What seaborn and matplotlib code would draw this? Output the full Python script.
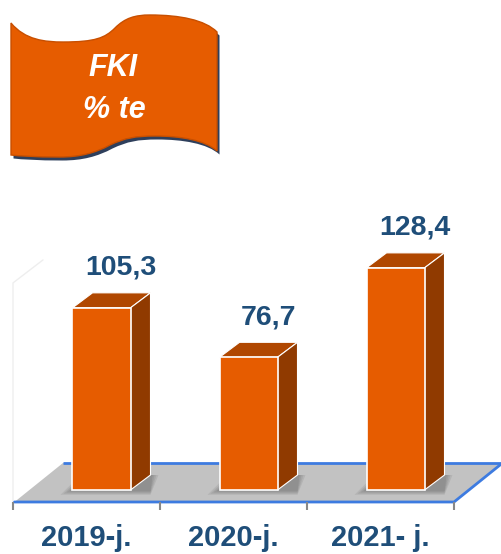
import numpy as np
import pandas as pd
import matplotlib
matplotlib.use("Agg")
import matplotlib.pyplot as plt
from matplotlib.path import Path
from matplotlib.patches import PathPatch, Polygon
import seaborn as sns

years = ["2019-j.", "2020-j.", "2021- j."]
values = [105.3, 76.7, 128.4]
value_labels = ["105,3", "76,7", "128,4"]
title_lines = ["FKI", "% te"]

orange = "#E65C00"
top_col = "#B04700"
side_col = "#903A00"
navy = "#1F4E79"
blue = "#3D7BE0"
floor_col = "#C2C2C2"

sns.set_theme(style="white")
plt.rcParams["font.family"] = ["Liberation Sans", "DejaVu Sans"]

W, H = 501, 554
fig = plt.figure(figsize=(W / 100, H / 100), dpi=100)
fig.patch.set_facecolor("white")

# pixel scale of the bar axes
kx = 147.0          # px per category
ky = 1.73           # px per value unit
base_px = 490       # y=0 (from top)
ylo, yhi = -18.5, 170
bottom_px = base_px - ylo * ky
top_px = base_px - yhi * ky
ax = fig.add_axes([0, (H - bottom_px) / H, 1, (bottom_px - top_px) / H])
ax.set_zorder(2)
ax.patch.set_alpha(0)

df = pd.DataFrame({"year": years, "value": values})
sns.barplot(data=df, x="year", y="value", color=orange, saturation=1,
            width=58 / kx, edgecolor="white", linewidth=1.2, ax=ax)
ax.set_xlim(-0.5 - 13 / kx, -0.5 + (W - 13) / kx)
ax.set_ylim(ylo, yhi)

dx = 20 / kx
dy = 15 / ky
shift = 15 / kx

# floor
fdx = 0.33
fy0 = -12 / ky
fy1 = 27 / ky
ax.add_patch(Polygon([(-0.49, fy0), (2.5, fy0), (2.5 + fdx, fy1), (-0.49 + fdx, fy1)],
                     closed=True, facecolor=floor_col, edgecolor="none", zorder=0.5))
ax.plot([-0.49 + fdx, 2.5 + fdx], [fy1, fy1], color=blue, lw=2, zorder=0.6, solid_capstyle="butt")
ax.plot([-0.49, 2.5, 2.5 + fdx], [fy0, fy0, fy1], color=blue, lw=2, zorder=0.6)
ax.vlines([-0.5, 0.5, 1.5, 2.5], fy0 - 8 / ky, fy0, color="#888888", lw=1.5, zorder=0.6, clip_on=False)
# faint back wall edge
ax.plot([-0.5, -0.5, -0.5 + 30 / kx], [fy0, 119.7, 119.7 + 23 / ky], color="#eeeeee", lw=1, zorder=0.4)

for i, p in enumerate(ax.patches):
    if i >= len(values):
        break
    p.set_x(p.get_x() + shift)
    p.set_zorder(3)
    x0, w, h = p.get_x(), p.get_width(), p.get_height()
    # soft shadow
    for j in range(1, 5):
        ax.add_patch(Polygon([(x0 - j * 3 / kx, -j * 1.2 / ky), (x0 + w + dx, -j * 1.2 / ky),
                              (x0 + w + dx + j * 2 / kx, dy), (x0 - j * 3 / kx + dx, dy)],
                             closed=True, facecolor="black", alpha=0.07, edgecolor="none", zorder=1))
    ax.add_patch(Polygon([(x0, h), (x0 + w, h), (x0 + w + dx, h + dy), (x0 + dx, h + dy)],
                         closed=True, facecolor=top_col, edgecolor="white", lw=0.8, zorder=2.5))
    ax.add_patch(Polygon([(x0 + w, 0), (x0 + w + dx, dy), (x0 + w + dx, h + dy), (x0 + w, h)],
                         closed=True, facecolor=side_col, edgecolor="white", lw=0.8, zorder=2.5))
    ax.text(x0 + w / 2 + 19.5 / kx, h + 19, value_labels[i], ha="center", va="baseline",
            fontsize=20.5, fontweight="bold", color=navy, zorder=4)

ax.set_xlabel("")
ax.set_ylabel("")
ax.set_yticks([])
ax.set_xticks(range(len(years)))
ax.set_xticklabels(years, fontsize=21, fontweight="bold", color=navy)
ax.tick_params(axis="x", length=0, pad=1.5)
for s in ax.spines.values():
    s.set_visible(False)

# decoration layer (pixel coordinates)
deco = fig.add_axes([0, 0, 1, 1])
deco.set_zorder(1)
deco.set_xlim(0, W)
deco.set_ylim(H, 0)
deco.axis("off")

verts = [(11, 23),
         (25, 40), (45, 42), (63, 42),
         (95, 42), (105, 38), (115, 28),
         (125, 18), (135, 15), (150, 15),
         (180, 15), (205, 20), (217, 32),
         (217, 151),
         (205, 140), (180, 136), (155, 136),
         (135, 136), (125, 138), (110, 145),
         (95, 153), (80, 157), (60, 157),
         (35, 157), (20, 156), (11, 155),
         (11, 23)]
codes = [Path.MOVETO] + [Path.CURVE4] * 12 + [Path.LINETO] + [Path.CURVE4] * 12 + [Path.CLOSEPOLY]
banner = Path(verts, codes)
shadow = Path([(x + 2.5, y + 3.5) for x, y in verts], codes)
deco.add_patch(PathPatch(shadow, facecolor="#2E3F5C", edgecolor="none"))
deco.add_patch(PathPatch(banner, facecolor=orange, edgecolor="#C84F00", lw=1))
deco.text(113, 68, title_lines[0], ha="center", va="center", fontsize=22,
          fontweight="bold", fontstyle="italic", color="white")
deco.text(114, 110, title_lines[1], ha="center", va="center", fontsize=22,
          fontweight="bold", fontstyle="italic", color="white")

fig.savefig("out.png", dpi=100)
